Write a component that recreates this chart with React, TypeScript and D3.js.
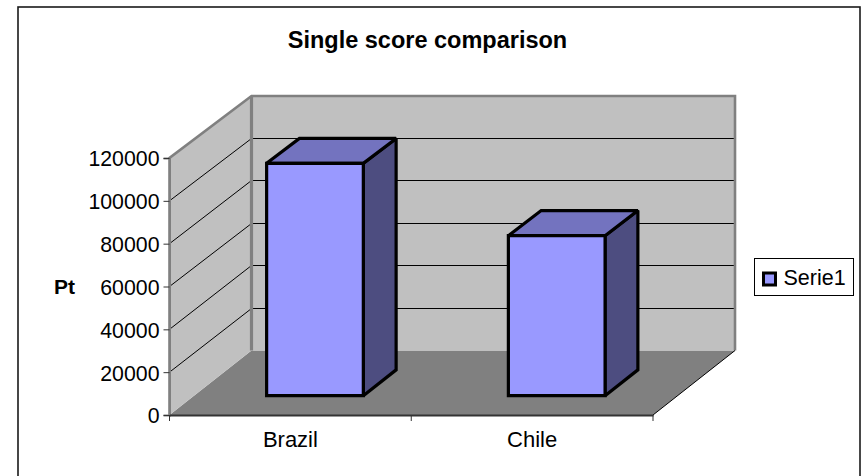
import { useEffect, useRef } from 'react';
import * as d3 from 'd3';

const categories = ['Brazil', 'Chile'];
const seriesValues = [108800, 74900];
const yTicks = [0, 20000, 40000, 60000, 80000, 100000, 120000];
const seriesName = 'Serie1';
const chartTitle = 'Single score comparison';
const yTitle = 'Pt';

const W = 861;
const H = 476;
const FONT = '"Liberation Sans", Arial, sans-serif';

// horizontal offset of the back wall from the front edge of the floor
const DEPTH_X = 82;

export default function App() {
  const svgRef = useRef<SVGSVGElement>(null);

  useEffect(() => {
    if (!svgRef.current) return;
    const svg = d3.select(svgRef.current);
    svg.selectAll('*').remove();

    const x0 = 169.5;
    const x1 = 653;
    const top = 120000;

    const x = d3.scaleBand<string>().domain(categories).range([x0, x1]);
    const y = d3.scaleLinear().domain([0, top]).range([415, 158]);
    const yBack = d3.scaleLinear().domain([0, top]).range([350.5, 96]);
    const barW = x.bandwidth() * 0.4;

    // value + depth (0 = front, 1 = back wall) to pixels
    const px = (xv: number, d: number) => xv + DEPTH_X * d;
    const py = (v: number, d: number) => y(v) * (1 - d) + yBack(v) * d;
    const poly = (pts: [number, number][]) => d3.line()(pts)! + 'Z';

    svg.append('rect')
      .attr('x', 18).attr('y', 7).attr('width', 842).attr('height', 490)
      .attr('fill', '#fff').attr('stroke', '#1a1a1a').attr('stroke-width', 1.6);

    svg.append('text')
      .attr('x', 427.5).attr('y', 48).attr('text-anchor', 'middle')
      .attr('font-family', FONT).attr('font-size', 23.5).attr('font-weight', 'bold')
      .text(chartTitle);

    // floor
    svg.append('path')
      .attr('d', poly([[x0, py(0, 0)], [x1, py(0, 0)], [px(x1, 1), py(0, 1)], [px(x0, 1), py(0, 1)]]))
      .attr('fill', '#808080');
    // side wall
    svg.append('path')
      .attr('d', poly([[x0, py(0, 0)], [x0, py(top, 0)], [px(x0, 1), py(top, 1)], [px(x0, 1), py(0, 1)]]))
      .attr('fill', '#c0c0c0');
    // back wall
    svg.append('rect')
      .attr('x', px(x0, 1)).attr('y', py(top, 1))
      .attr('width', x1 - x0).attr('height', py(0, 1) - py(top, 1))
      .attr('fill', '#c0c0c0');

    // grid lines on both walls
    yTicks.filter((t) => t > 0 && t < top).forEach((t) => {
      const backY = Math.floor(py(t, 1)) + 0.5;
      svg.append('path')
        .attr('d', d3.line()([[x0, py(t, 0)], [px(x0, 1), backY], [px(x1, 1), backY]]))
        .attr('fill', 'none').attr('stroke', '#000').attr('stroke-width', 1);
    });

    // wall edges
    svg.append('path')
      .attr('d', d3.line()([
        [x0, py(0, 0)], [x0, py(top, 0)], [px(x0, 1), py(top, 1)],
        [px(x1, 1), py(top, 1)], [px(x1, 1), py(0, 1)],
      ]))
      .attr('fill', 'none').attr('stroke', '#808080').attr('stroke-width', 2.6);
    svg.append('path')
      .attr('d', d3.line()([[px(x0, 1), py(top, 1)], [px(x0, 1), py(0, 1)]]))
      .attr('stroke', '#808080').attr('stroke-width', 3.2);
    svg.append('path')
      .attr('d', d3.line()([[x1, py(0, 0)], [px(x1, 1), py(0, 1)]]))
      .attr('stroke', '#000').attr('stroke-width', 1);

    // bars
    const front = 0.3;
    const back = 0.7;
    categories.forEach((c, i) => {
      const v = seriesValues[i];
      const l = x(c)! + (x.bandwidth() - barW) / 2;
      const r = l + barW;
      const g = svg.append('g')
        .attr('stroke', '#000').attr('stroke-width', 3.2)
        .attr('stroke-linejoin', 'miter').attr('stroke-miterlimit', 2);
      g.append('path')
        .attr('d', poly([[px(r, front), py(0, front)], [px(r, front), py(v, front)], [px(r, back), py(v, back)], [px(r, back), py(0, back)]]))
        .attr('fill', '#4d4d80');
      g.append('path')
        .attr('d', poly([[px(l, front), py(v, front)], [px(r, front), py(v, front)], [px(r, back), py(v, back)], [px(l, back), py(v, back)]]))
        .attr('fill', '#7373bf');
      g.append('path')
        .attr('d', poly([[px(l, front), py(0, front)], [px(r, front), py(0, front)], [px(r, front), py(v, front)], [px(l, front), py(v, front)]]))
        .attr('fill', '#9999ff');
    });

    // axes
    const yAxis = svg.append('g')
      .attr('transform', `translate(${x0},0)`)
      .call(d3.axisLeft(y).tickValues(yTicks).tickFormat(d3.format('d')).tickSize(6).tickPadding(4));
    yAxis.select('.domain').attr('stroke', '#808080').attr('stroke-width', 2);
    yAxis.selectAll('.tick line').attr('stroke', '#333');
    yAxis.selectAll('text')
      .attr('font-family', FONT).attr('font-size', 21.3).attr('fill', '#000').attr('dy', '0.37em');

    const xAxis = svg.append('g')
      .attr('transform', `translate(0,${py(0, 0)})`)
      .call(d3.axisBottom(x).tickSize(0).tickPadding(16.5));
    xAxis.select('.domain').attr('stroke', '#333').attr('stroke-width', 2);
    xAxis.selectAll('text').attr('font-family', FONT).attr('font-size', 22).attr('fill', '#000');
    [x0, x0 + x.bandwidth(), x1].forEach((t) => {
      svg.append('line')
        .attr('x1', t).attr('x2', t).attr('y1', py(0, 0)).attr('y2', py(0, 0) + 6)
        .attr('stroke', '#333');
    });

    svg.append('text')
      .attr('x', 64.5).attr('y', 293.5).attr('text-anchor', 'middle')
      .attr('font-family', FONT).attr('font-size', 21).attr('font-weight', 'bold')
      .text(yTitle);

    // legend
    svg.append('rect')
      .attr('x', 754.5).attr('y', 258.5).attr('width', 99).attr('height', 37)
      .attr('fill', '#fff').attr('stroke', '#000').attr('stroke-width', 1);
    svg.append('rect')
      .attr('x', 763.5).attr('y', 273).attr('width', 12).attr('height', 12)
      .attr('fill', '#9999ff').attr('stroke', '#000').attr('stroke-width', 3);
    svg.append('text')
      .attr('x', 783.5).attr('y', 285)
      .attr('font-family', FONT).attr('font-size', 21.5)
      .text(seriesName);
  }, []);

  return (
    <svg
      ref={svgRef}
      width={W}
      height={H}
      style={{ position: 'absolute', left: 0, top: 0, display: 'block' }}
    />
  );
}
